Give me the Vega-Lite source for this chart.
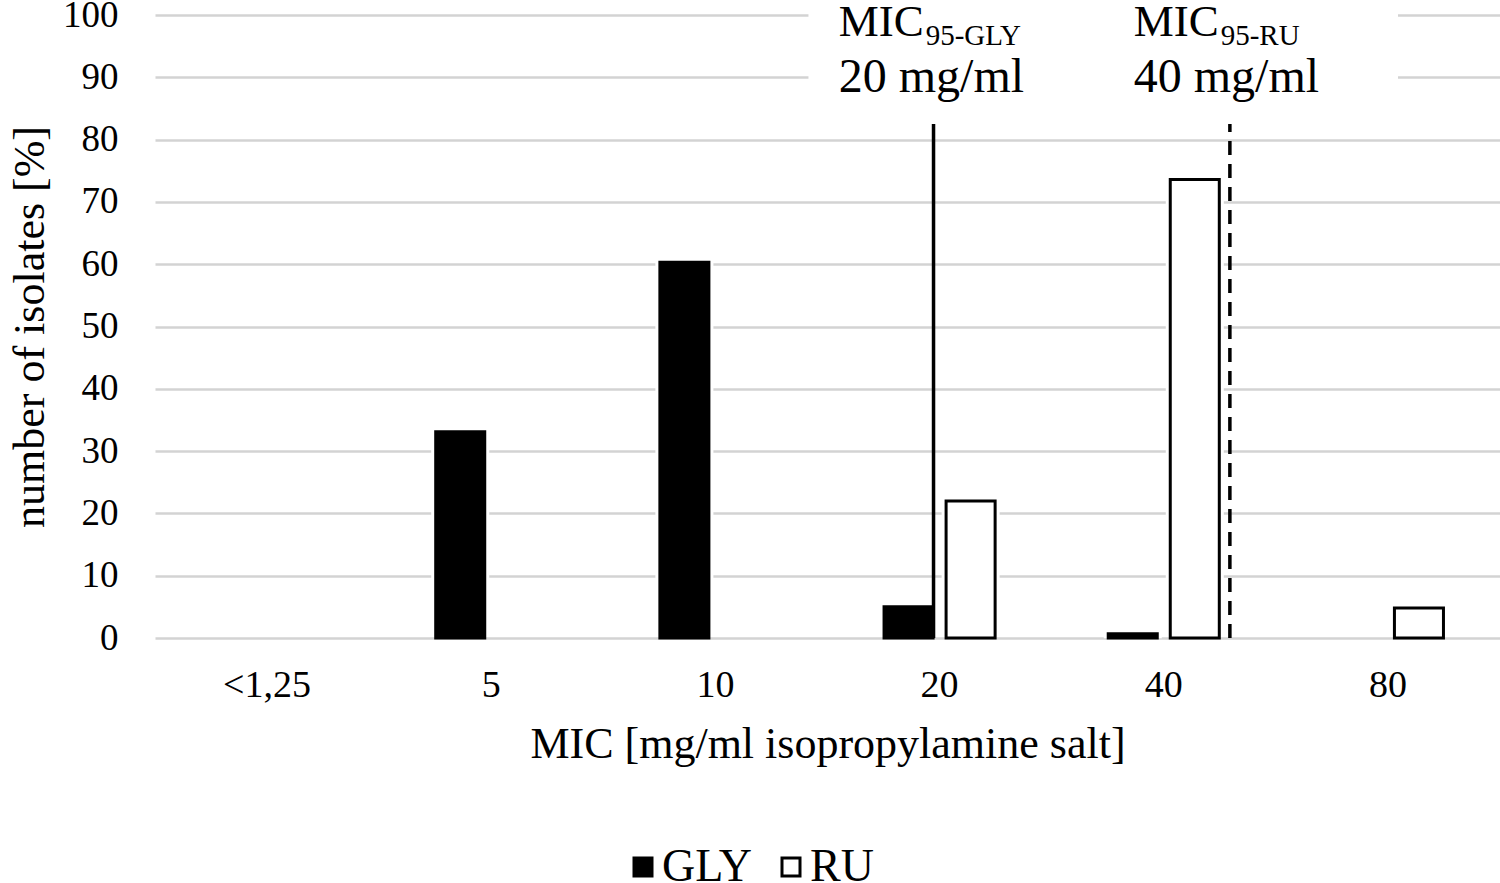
{
  "$schema": "https://vega.github.io/schema/vega-lite/v6.json",
  "width": 1345,
  "height": 623,
  "autosize": "none",
  "padding": {"left": 155, "top": 15, "right": 0, "bottom": 245},
  "background": "white",
  "config": {
    "font": "Liberation Serif",
    "view": {"stroke": null},
    "axis": {"labelColor": "black", "titleColor": "black", "titleFontWeight": "normal"}
  },
  "datasets": {
    "isolates": [
      {"mic": "5", "group": "GLY", "pct": 33.1},
      {"mic": "10", "group": "GLY", "pct": 60.3},
      {"mic": "20", "group": "GLY", "pct": 5.0},
      {"mic": "20", "group": "RU", "pct": 22.0},
      {"mic": "40", "group": "GLY", "pct": 0.7},
      {"mic": "40", "group": "RU", "pct": 73.6},
      {"mic": "80", "group": "RU", "pct": 4.8}
    ],
    "notes": [
      {"x": 3.05, "main": "MIC", "sub": "95-GLY", "conc": "20 mg/ml"},
      {"x": 4.366, "main": "MIC", "sub": "95-RU", "conc": "40 mg/ml"}
    ],
    "refs": [
      {"x": 3.473, "style": "solid"},
      {"x": 4.795, "style": "dashed"}
    ]
  },
  "layer": [
    {
      "data": {"name": "isolates"},
      "encoding": {
        "x": {
          "field": "mic",
          "type": "nominal",
          "sort": null,
          "scale": {"domain": ["<1,25", "5", "10", "20", "40", "80"], "paddingInner": 0.5045, "paddingOuter": 0.2522},
          "axis": {
            "title": "MIC [mg/ml isopropylamine salt]",
            "labelAngle": 0,
            "ticks": false,
            "domain": false,
            "grid": false,
            "labelPadding": 28,
            "labelFontSize": 38,
            "titleFontSize": 44,
            "titlePadding": 18
          }
        },
        "xOffset": {
          "field": "group",
          "type": "nominal",
          "scale": {"domain": ["GLY", "RU"], "paddingInner": 0.2097, "paddingOuter": 0}
        },
        "y": {
          "field": "pct",
          "type": "quantitative",
          "title": "number of isolates [%]",
          "scale": {"domain": [0, 100], "nice": false},
          "axis": {
            "values": [0, 10, 20, 30, 40, 50, 60, 70, 80, 90, 100],
            "grid": true,
            "gridColor": "#d3d3d3",
            "gridWidth": 2.5,
            "ticks": false,
            "domain": false,
            "labelPadding": 37,
            "labelFontSize": 37,
            "titleFontSize": 44,
            "titlePadding": 10
          }
        }
      },
      "layer": [
        {
          "mark": {"type": "bar", "fill": "white", "stroke": "white", "strokeWidth": 9},
          "encoding": {"y2": {"datum": 1}}
        },
        {
          "mark": {"type": "bar", "stroke": "black", "strokeWidth": 3},
          "encoding": {
            "fill": {
              "field": "group",
              "type": "nominal",
              "scale": {"domain": ["GLY", "RU"], "range": ["black", "white"]},
              "legend": {
                "title": null,
                "orient": "none",
                "legendX": 465,
                "legendY": 829,
                "padding": 0,
                "direction": "horizontal",
                "symbolType": "square",
                "symbolSize": 324,
                "symbolStrokeColor": "black",
                "symbolStrokeWidth": 3,
                "labelFontSize": 46,
                "labelColor": "black",
                "labelOffset": -4,
                "columnPadding": 16
              }
            }
          }
        }
      ]
    },
    {
      "encoding": {
        "x": {"type": "quantitative", "scale": {"domain": [0, 6], "nice": false, "zero": false}, "axis": null}
      },
      "layer": [
        {
          "data": {"values": [{}]},
          "mark": {"type": "rect", "fill": "white"},
          "encoding": {
            "x": {"datum": 2.915, "type": "quantitative", "scale": {"domain": [0, 6], "nice": false}, "axis": null},
            "x2": {"datum": 5.545},
            "y": {"datum": 85, "type": "quantitative", "title": "number of isolates [%]", "scale": {"domain": [0, 100], "nice": false}},
            "y2": {"datum": 101}
          }
        },
        {
          "data": {"name": "refs"},
          "mark": {"type": "rule", "strokeWidth": 3.5, "color": "black"},
          "encoding": {
            "x": {"field": "x", "type": "quantitative", "scale": {"domain": [0, 6], "nice": false}, "axis": null},
            "y": {"datum": 0, "type": "quantitative", "title": "number of isolates [%]", "scale": {"domain": [0, 100], "nice": false}},
            "y2": {"datum": 82.5},
            "strokeDash": {
              "field": "style",
              "type": "nominal",
              "scale": {"domain": ["solid", "dashed"], "range": [[1, 0], [14, 9]]},
              "legend": null
            }
          }
        },
        {
          "data": {"name": "notes"},
          "mark": {"type": "text", "align": "left", "baseline": "alphabetic", "fontSize": 45, "color": "black"},
          "encoding": {
            "x": {"field": "x", "type": "quantitative", "scale": {"domain": [0, 6], "nice": false}, "axis": null},
            "y": {"datum": 96.7, "type": "quantitative", "title": "number of isolates [%]", "scale": {"domain": [0, 100], "nice": false}},
            "text": {"field": "main"}
          }
        },
        {
          "data": {"name": "notes"},
          "mark": {"type": "text", "align": "left", "baseline": "alphabetic", "fontSize": 29, "dx": 87, "color": "black"},
          "encoding": {
            "x": {"field": "x", "type": "quantitative", "scale": {"domain": [0, 6], "nice": false}, "axis": null},
            "y": {"datum": 95.2, "type": "quantitative", "title": "number of isolates [%]", "scale": {"domain": [0, 100], "nice": false}},
            "text": {"field": "sub"}
          }
        },
        {
          "data": {"name": "notes"},
          "mark": {"type": "text", "align": "left", "baseline": "alphabetic", "fontSize": 48, "color": "black"},
          "encoding": {
            "x": {"field": "x", "type": "quantitative", "scale": {"domain": [0, 6], "nice": false}, "axis": null},
            "y": {"datum": 87.6, "type": "quantitative", "title": "number of isolates [%]", "scale": {"domain": [0, 100], "nice": false}},
            "text": {"field": "conc"}
          }
        }
      ]
    }
  ],
  "resolve": {"scale": {"x": "independent"}}
}
